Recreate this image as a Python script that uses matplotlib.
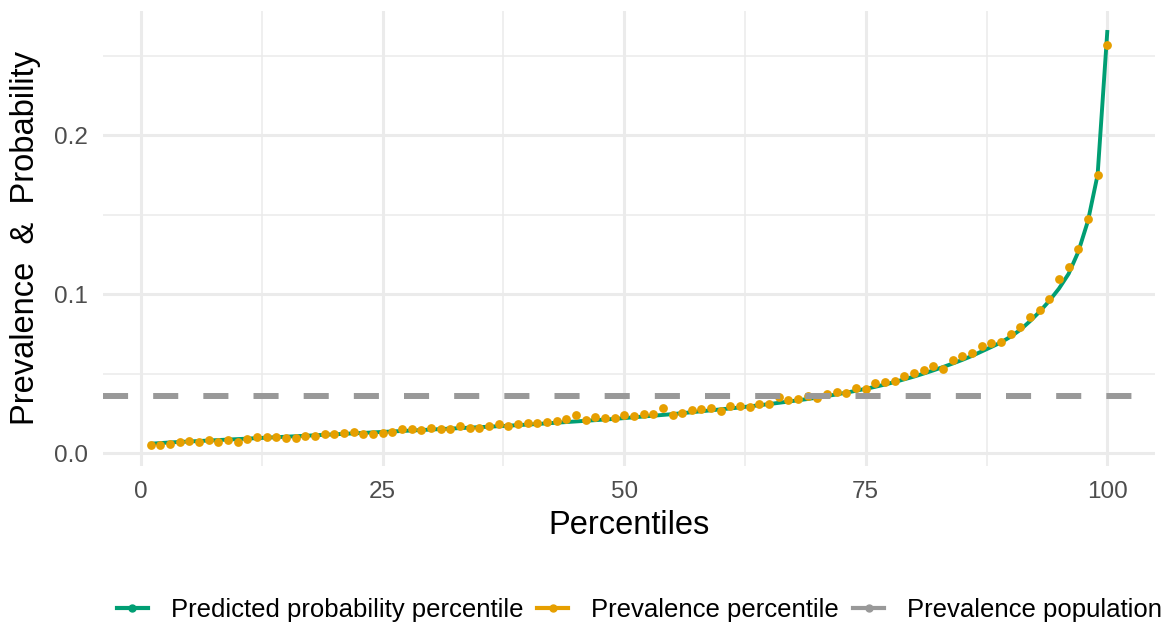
import matplotlib
matplotlib.use("Agg")
import matplotlib.pyplot as plt
from matplotlib.lines import Line2D
from matplotlib.ticker import MultipleLocator

plt.rcParams['font.family'] = ['Liberation Sans', 'DejaVu Sans']

percentiles = list(range(1, 101))

predicted_prob = [
    0.0060, 0.0064, 0.0068, 0.0071, 0.0074, 0.0077, 0.0080, 0.0083, 0.0086, 0.0089,
    0.0092, 0.0095, 0.0098, 0.0101, 0.0104, 0.0107, 0.0110, 0.0113, 0.0116, 0.0119,
    0.0122, 0.0125, 0.0128, 0.0131, 0.0134, 0.0137, 0.0140, 0.0143, 0.0146, 0.0149,
    0.0152, 0.0155, 0.0158, 0.0161, 0.0164, 0.0167, 0.0170, 0.0173, 0.0177, 0.0180,
    0.0184, 0.0188, 0.0192, 0.0196, 0.0200, 0.0204, 0.0208, 0.0212, 0.0216, 0.0221,
    0.0226, 0.0231, 0.0236, 0.0241, 0.0246, 0.0252, 0.0258, 0.0264, 0.0270, 0.0276,
    0.0282, 0.0288, 0.0295, 0.0302, 0.0309, 0.0317, 0.0325, 0.0333, 0.0341, 0.0350,
    0.0360, 0.0370, 0.0381, 0.0393, 0.0405, 0.0418, 0.0432, 0.0448, 0.0465, 0.0482,
    0.0501, 0.0521, 0.0542, 0.0564, 0.0587, 0.0612, 0.0640, 0.0668, 0.0697, 0.0733,
    0.0776, 0.0830, 0.0890, 0.0958, 0.1035, 0.1128, 0.1266, 0.1460, 0.1750, 0.2648,
]

prevalence_pct = [
    0.0052, 0.0050, 0.0058, 0.0071, 0.0075, 0.0071, 0.0084, 0.0073, 0.0084, 0.0073,
    0.0088, 0.0104, 0.0104, 0.0104, 0.0096, 0.0096, 0.0107, 0.0109, 0.0123, 0.0121,
    0.0126, 0.0132, 0.0121, 0.0123, 0.0129, 0.0134, 0.0153, 0.0153, 0.0148, 0.0157,
    0.0153, 0.0151, 0.0170, 0.0157, 0.0161, 0.0173, 0.0186, 0.0171, 0.0186, 0.0192,
    0.0188, 0.0197, 0.0203, 0.0217, 0.0242, 0.0209, 0.0228, 0.0222, 0.0222, 0.0239,
    0.0232, 0.0247, 0.0247, 0.0286, 0.0241, 0.0255, 0.0270, 0.0278, 0.0283, 0.0268,
    0.0299, 0.0295, 0.0293, 0.0310, 0.0308, 0.0352, 0.0337, 0.0341, 0.0360, 0.0345,
    0.0371, 0.0383, 0.0377, 0.0412, 0.0406, 0.0442, 0.0446, 0.0454, 0.0484, 0.0503,
    0.0525, 0.0546, 0.0530, 0.0584, 0.0611, 0.0630, 0.0674, 0.0691, 0.0701, 0.0749,
    0.0791, 0.0858, 0.0900, 0.0969, 0.1093, 0.1172, 0.1283, 0.1474, 0.1750, 0.2563,
]

prevalence_population = 0.0362

labels = ['Predicted probability percentile', 'Prevalence percentile', 'Prevalence population']
colors = ['#009E73', '#E69F00', '#999999']

fig = plt.figure(figsize=(11.69, 6.27), dpi=100)
ax = fig.add_axes([0.0881, 0.2568, 0.9, 0.7257])

ax.plot(percentiles, predicted_prob, color=colors[0], lw=2.8, zorder=3)
ax.scatter(percentiles, prevalence_pct, color=colors[1], s=40, zorder=4, linewidths=0)
ax.axhline(prevalence_population, color=colors[2], lw=4.3, dashes=(4.2, 4.2), zorder=5)

ax.set_xlim(-3.95, 104.95)
ax.set_ylim(-0.008, 0.278)
ax.xaxis.set_major_locator(MultipleLocator(25))
ax.xaxis.set_minor_locator(MultipleLocator(12.5))
ax.yaxis.set_major_locator(MultipleLocator(0.1))
ax.yaxis.set_minor_locator(MultipleLocator(0.05))
ax.set_yticks([0.0, 0.1, 0.2])
ax.set_yticklabels(['0.0', '0.1', '0.2'])
ax.grid(which='major', color='#EBEBEB', lw=2.2)
ax.grid(which='minor', color='#EBEBEB', lw=1.1)
ax.set_axisbelow(True)
for s in ax.spines.values():
    s.set_visible(False)
ax.tick_params(which='both', length=0, labelsize=17.5, labelcolor='#4D4D4D', pad=11)

ax.set_xlabel('Percentiles', fontsize=23.5, labelpad=5)
ax.set_ylabel('Prevalence  &  Probability', fontsize=23.5, labelpad=9)

handles = [Line2D([], [], color=c, lw=3, marker='o', markersize=5) for c in colors]
fig.legend(handles, labels, loc='center', bbox_to_anchor=(0.547, 0.027), ncol=3,
           frameon=False, fontsize=18.5, handlelength=1.2, handletextpad=0.9,
           columnspacing=0.55)

fig.savefig('out.png', dpi=100)
